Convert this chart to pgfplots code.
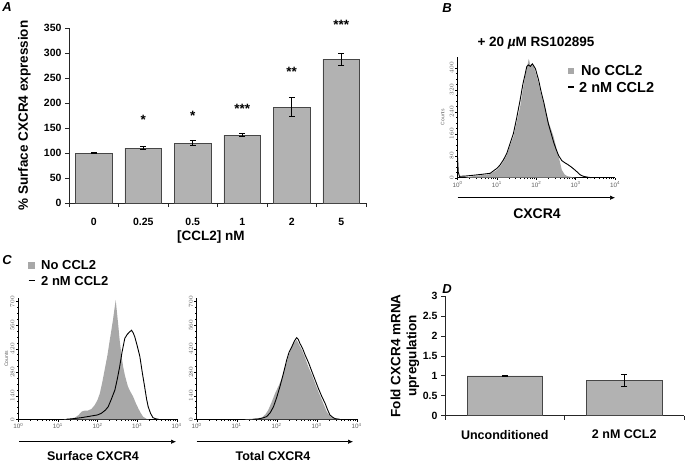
\documentclass[border=0pt]{standalone}
\usepackage{fontspec}
\setmainfont{Liberation Sans}
\usepackage{pgfplots}
\pgfplotsset{compat=1.18}
\usetikzlibrary{arrows.meta}
\definecolor{barfill}{RGB}{178,178,178}
\definecolor{baredge}{RGB}{70,70,70}
\definecolor{histfill}{RGB}{168,168,168}
\definecolor{ticklab}{RGB}{95,95,95}

\pgfplotsset{
 histo/.style={
   scale only axis, anchor=south west,
   xmin=0,xmax=4, ymin=0,
   axis x line*=bottom, axis y line*=left,
   axis line style={-, line width=0.6pt},
   tick align=outside,
   xtick={0,1,2,3,4},
   xticklabels={10\textsuperscript{0},10\textsuperscript{1},10\textsuperscript{2},10\textsuperscript{3},10\textsuperscript{4}},
   minor xtick={0.301,0.477,0.602,0.699,0.778,0.845,0.903,0.954,
                1.301,1.477,1.602,1.699,1.778,1.845,1.903,1.954,
                2.301,2.477,2.602,2.699,2.778,2.845,2.903,2.954,
                3.301,3.477,3.602,3.699,3.778,3.845,3.903,3.954},
   minor y tick num=3,
   major tick length=2.5pt, minor tick length=1.3pt,
   tick style={line width=0.4pt, black},
   ticklabel style={font=\fontsize{6.3}{7}\selectfont\mdseries, text=ticklab},
   yticklabel style={rotate=90, anchor=south, inner sep=1.2pt},
   xticklabel style={inner sep=1.2pt},
   ylabel style={font=\fontsize{5}{5.5}\selectfont\mdseries, text=ticklab},
   clip=false,
 },
 bars/.style={
   scale only axis, anchor=south west,
   axis x line*=bottom, axis y line*=left,
   axis line style={-, line width=0.7pt, black!85},
   tick align=outside, major tick length=4pt,
   tick style={line width=0.7pt, black!85},
   x tick label as interval,
   ticklabel style={font=\fontsize{10.5}{12}\selectfont},
   label style={font=\fontsize{13.5}{16}\selectfont},
   clip=false,
 }
}

\begin{document}
\bfseries
\begin{tikzpicture}
\path[use as bounding box] (0,0) rectangle (685pt,-464pt);

% ---------------- Panel A ----------------
\begin{axis}[bars,
  at={(69pt,-203pt)}, width=297pt, height=175pt,
  xmin=-0.5, xmax=5.5, ymin=0, ymax=350,
  xtick={-0.5,0.5,1.5,2.5,3.5,4.5,5.5},
  xticklabels={0,0.25,0.5,1,2,5},
  xticklabel style={yshift=-8pt},
  ytick={0,50,100,150,200,250,300,350},
  yticklabels={0,50,100,150,200,250,300,350},
  xlabel={[CCL2] nM},
  xlabel style={at={(axis description cs:0.478,-0.193)}, anchor=center},
  ylabel={\% Surface CXCR4 expression},
  ylabel style={at={(axis description cs:-0.15,0.5)}, anchor=center},
]
\addplot[ybar, bar width=0.74, fill=barfill, draw=baredge, line width=0.6pt,
  error bars/.cd, y dir=both, y explicit,
  error bar style={black, line width=0.7pt},
  error mark options={black, mark size=3pt, line width=0.7pt, rotate=90}]
  coordinates {(0,100) +- (0,1.2) (1,110) +- (0,3) (2,120) +- (0,5)
               (3,136) +- (0,2.5) (4,192) +- (0,19) (5,288) +- (0,12)};
\node[font=\fontsize{13.5}{13.5}\selectfont] at (axis cs:1,166) {*};
\node[font=\fontsize{13.5}{13.5}\selectfont] at (axis cs:2,174) {*};
\node[font=\fontsize{13.5}{13.5}\selectfont] at (axis cs:3,188) {***};
\node[font=\fontsize{13.5}{13.5}\selectfont] at (axis cs:4,262) {**};
\node[font=\fontsize{13.5}{13.5}\selectfont] at (axis cs:5,356) {***};
\end{axis}

% ---------------- Panel B ----------------
\begin{axis}[histo,
  at={(457.5pt,-177.7pt)}, width=157.5pt, height=121pt,
  ymax=440, ytick={0,80,160,240,320,400},
  ylabel={Counts},
  ylabel style={at={(axis description cs:-0.095,0.5)}, anchor=center},
]
\addplot[fill=histfill, draw=none] coordinates {
 (0.2,0) (0.41,6) (0.6,9) (0.83,13) (1.0,28) (1.08,40) (1.17,60) (1.25,82)
 (1.33,115) (1.42,149) (1.5,200) (1.59,257) (1.66,320) (1.72,372) (1.77,405)
 (1.81,432) (1.85,410) (1.93,408) (2.0,375) (2.06,342) (2.12,305) (2.19,270)
 (2.25,235) (2.31,203) (2.38,175) (2.44,149) (2.5,115) (2.57,76) (2.65,28)
 (2.72,12) (2.78,6) (2.95,1) (3.1,0)} \closedcycle;
\addplot[black, line width=0.9pt] coordinates {
 (0,0) (0.0,76) (0.02,20) (0.05,5) (0.2,6) (0.41,9) (0.6,12) (0.83,16)
 (1.0,34) (1.08,46) (1.17,66) (1.25,88) (1.33,122) (1.42,161) (1.5,215)
 (1.59,282) (1.66,340) (1.72,378) (1.76,405) (1.8,410) (1.85,405) (1.9,414)
 (1.93,408) (1.98,396) (2.06,355) (2.12,315) (2.19,275) (2.25,235) (2.31,195)
 (2.38,160) (2.44,130) (2.5,105) (2.57,80) (2.65,62) (2.72,55) (2.8,48)
 (2.88,40) (2.95,32) (3.03,22) (3.12,10) (3.2,5) (3.3,2) (3.4,0)};
\end{axis}

% ---------------- Panel C left ----------------
\begin{axis}[histo,
  at={(18.3pt,-419.3pt)}, width=158.4pt, height=121pt,
  ymax=720, ytick={0,140,280,420,560,700},
  ylabel={Counts},
  ylabel style={at={(axis description cs:-0.075,0.5)}, anchor=center},
]
\addplot[fill=histfill, draw=none] coordinates {
 (1.15,0) (1.3,4) (1.43,10) (1.52,25) (1.6,46) (1.68,52) (1.76,52) (1.85,62)
 (1.93,85) (2.0,115) (2.06,155) (2.12,220) (2.18,294) (2.25,380) (2.31,472)
 (2.35,530) (2.39,591) (2.43,660) (2.46,710) (2.49,640) (2.52,571) (2.56,470)
 (2.61,373) (2.65,310) (2.69,264) (2.73,228) (2.77,194) (2.83,165) (2.9,135)
 (2.96,100) (3.03,65) (3.09,38) (3.15,16) (3.24,2) (3.3,0)} \closedcycle;
\addplot[black, line width=0.9pt] coordinates {
 (1.2,0) (1.4,4) (1.6,10) (1.85,20) (2.0,26) (2.1,36) (2.2,55) (2.27,75)
 (2.35,120) (2.44,175) (2.5,240) (2.56,313) (2.62,400) (2.69,482) (2.75,505)
 (2.82,522) (2.86,530) (2.9,515) (2.94,492) (3.0,440) (3.07,373) (3.13,280)
 (3.19,194) (3.24,120) (3.28,75) (3.34,35) (3.4,10) (3.47,3) (3.55,0)};
\end{axis}

% ---------------- Panel C right ----------------
\begin{axis}[histo,
  at={(196.7pt,-419.3pt)}, width=160pt, height=121pt,
  ymax=720, ytick={0,140,280,420,560,700},
]
\addplot[fill=histfill, draw=none] coordinates {
 (1.2,0) (1.45,4) (1.63,10) (1.72,30) (1.79,56) (1.87,100) (1.96,155)
 (2.05,200) (2.13,244) (2.21,310) (2.29,373) (2.36,420) (2.42,452) (2.5,472)
 (2.56,445) (2.63,413) (2.71,365) (2.79,313) (2.88,265) (2.96,214) (3.04,165)
 (3.13,115) (3.19,80) (3.25,46) (3.31,25) (3.38,10) (3.5,2) (3.6,0)} \closedcycle;
\addplot[black, line width=0.9pt] coordinates {
 (1.4,0) (1.54,2) (1.65,8) (1.75,16) (1.84,40) (1.92,75) (2.0,130) (2.08,194)
 (2.17,275) (2.25,353) (2.31,400) (2.38,433) (2.44,465) (2.5,486) (2.54,475)
 (2.58,452) (2.65,420) (2.71,383) (2.8,335) (2.88,284) (2.96,235) (3.04,185)
 (3.12,140) (3.21,95) (3.27,58) (3.33,26) (3.4,12) (3.46,4) (3.58,0)};
\end{axis}

% ---------------- Panel D ----------------
\begin{axis}[bars,
  at={(445pt,-415.7pt)}, width=239pt, height=119.7pt,
  xmin=-0.5, xmax=1.5, ymin=0, ymax=3,
  xtick={-0.5,0.5,1.5},
  xticklabels={Unconditioned,2 nM CCL2},
  xticklabel style={yshift=-7pt, font=\fontsize{12.5}{14}\selectfont},
  ytick={0,0.5,1,1.5,2,2.5,3},
  yticklabels={0,0.5,1,1.5,2,2.5,3},
  yticklabel style={font=\fontsize{10.5}{12}\selectfont},
  ylabel={Fold CXCR4 mRNA\\upregulation},
  ylabel style={at={(axis description cs:-0.168,0.5)}, anchor=center, align=center},
]
\addplot[ybar, bar width=0.63, fill=barfill, draw=baredge, line width=0.6pt,
  error bars/.cd, y dir=both, y explicit,
  error bar style={black, line width=0.7pt},
  error mark options={black, mark size=3pt, line width=0.7pt, rotate=90}]
  coordinates {(0,1.0) +- (0,0.01) (1,0.89) +- (0,0.15)};
\end{axis}

% ---------------- annotations ----------------
\node[font=\bfseries\itshape\fontsize{13}{13}\selectfont] at (7pt,-7pt) {A};
\node[font=\bfseries\itshape\fontsize{13}{13}\selectfont] at (447pt,-8pt) {B};
\node[font=\bfseries\itshape\fontsize{13}{13}\selectfont] at (7pt,-260pt) {C};
\node[font=\bfseries\itshape\fontsize{13}{13}\selectfont] at (447pt,-289pt) {D};

% Panel B title, legend, arrow
\node[font=\fontsize{13.5}{15}\selectfont] at (536pt,-43pt) {+ 20 \textit{µ}M RS102895};
\fill[histfill] (567.5pt,-67.5pt) rectangle (574pt,-74pt);
\node[anchor=west, font=\fontsize{14.5}{16}\selectfont, inner sep=0pt] at (581pt,-71pt) {No CCL2};
\draw[line width=1.4pt] (568pt,-87pt) -- (574pt,-87pt);
\node[anchor=west, font=\fontsize{14.5}{16}\selectfont, inner sep=0pt] at (579pt,-87.5pt) {2 nM CCL2};
\draw[-{Latex[length=5pt,width=4.5pt]}, line width=0.6pt] (457.5pt,-197.7pt) -- (615pt,-197.7pt);
\node[font=\fontsize{14}{16}\selectfont] at (537pt,-214pt) {CXCR4};

% Panel C legend, arrows, labels
\fill[histfill] (28pt,-262pt) rectangle (34.5pt,-268.5pt);
\node[anchor=west, font=\fontsize{13}{15}\selectfont, inner sep=0pt] at (41pt,-265pt) {No CCL2};
\draw[line width=1.4pt] (28.5pt,-280.5pt) -- (34.5pt,-280.5pt);
\node[anchor=west, font=\fontsize{13}{15}\selectfont, inner sep=0pt] at (41pt,-281pt) {2 nM CCL2};
\draw[-{Latex[length=5pt,width=4.5pt]}, line width=0.6pt] (19pt,-441.7pt) -- (176pt,-441.7pt);
\draw[-{Latex[length=5pt,width=4.5pt]}, line width=0.6pt] (196.7pt,-441.7pt) -- (353pt,-441.7pt);
\node[font=\fontsize{12.5}{14}\selectfont] at (93pt,-456pt) {Surface CXCR4};
\node[font=\fontsize{12.5}{14}\selectfont] at (273pt,-456pt) {Total CXCR4};
\end{tikzpicture}
\end{document}
